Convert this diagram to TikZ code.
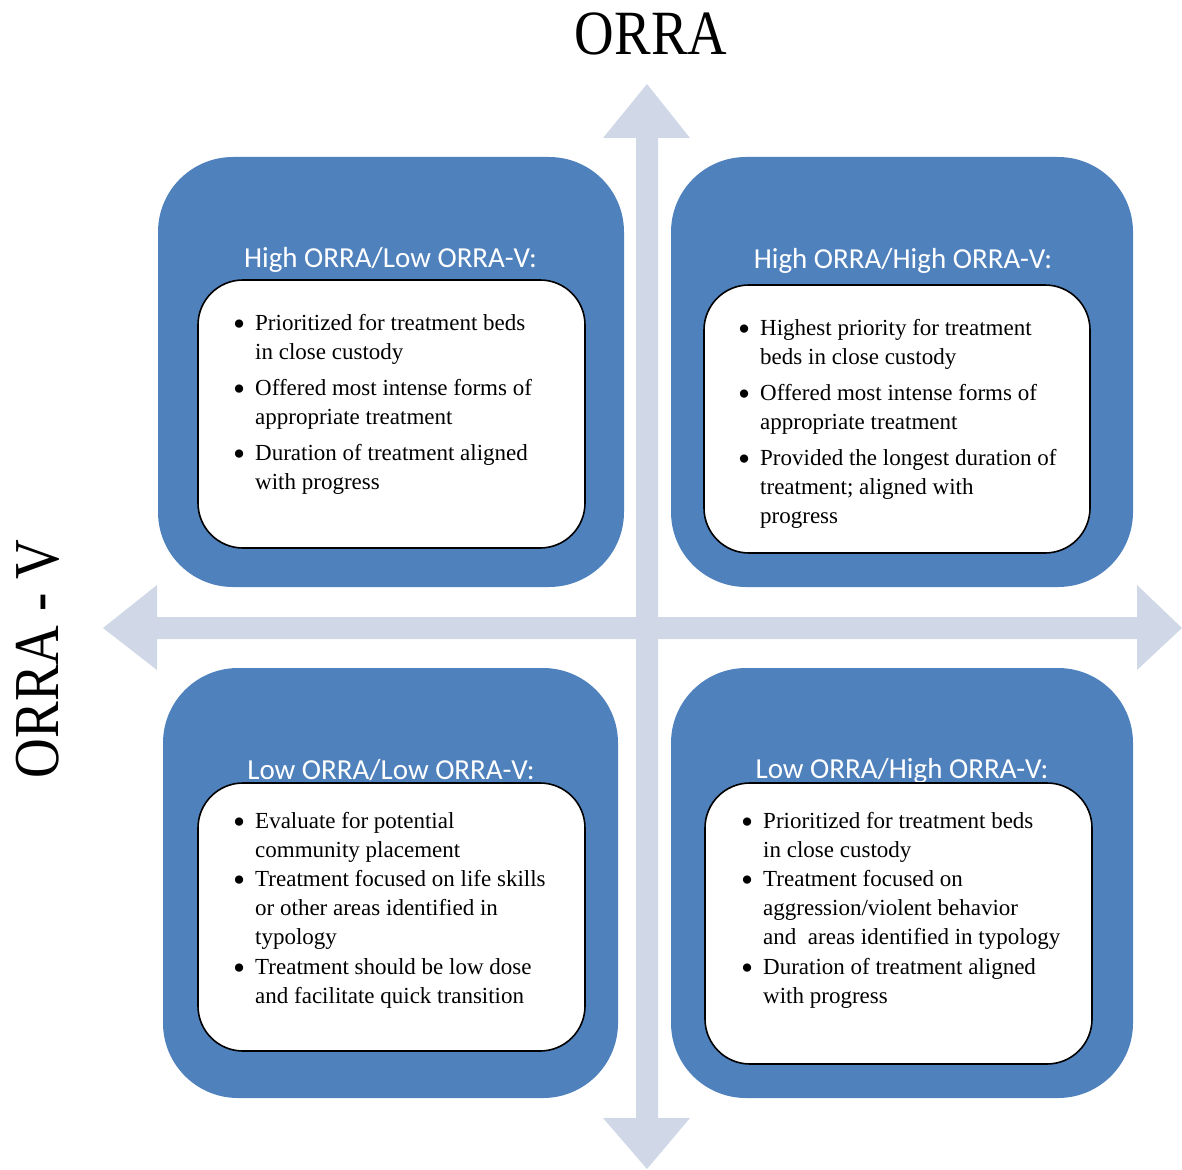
\documentclass[tikz,border=0pt]{standalone}
\usepackage{fontspec}
\setmainfont{Liberation Serif}
\newfontfamily\headfont{Carlito}
\definecolor{boxblue}{HTML}{4F81BD}
\definecolor{axisgray}{HTML}{D0D8E8}
\newcommand{\bul}{\makebox[23pt][l]{\hspace*{1pt}\raisebox{-5.5pt}{\scalebox{1.5}{\textbullet}}}}
\newcommand{\ind}{\makebox[23pt][l]{}}
\tikzset{
  outerbox/.style={fill=boxblue, rounded corners=75pt, inner sep=0pt, minimum height=430pt},
  innerbox/.style={fill=white, draw=black, line width=1.6pt, rounded corners=45pt, inner sep=0pt},
  headtext/.style={font=\headfont\fontsize{29}{34}\selectfont, text=white, anchor=base, inner sep=0pt},
  bodytext/.style={font=\fontsize{23}{29}\selectfont, anchor=base west, inner sep=0pt, align=left},
  bodytextb/.style={font=\fontsize{23}{29.2}\selectfont, anchor=base west, inner sep=0pt, align=left},
  axis/.style={fill=axisgray},
  bigtitle/.style={font=\fontsize{63}{70}\selectfont, inner sep=0pt, anchor=base}
}
\begin{document}
\begin{tikzpicture}[x=1pt,y=-1pt]
\useasboundingbox (0,0) rectangle (1182,1169);
% axes
\fill[axis] (647,84) -- (690,138) -- (658,138) -- (658,1118) -- (690,1118) -- (647,1169)
  -- (603,1118) -- (636,1118) -- (636,138) -- (603,138) -- cycle;
\fill[axis] (103,628) -- (157,585) -- (157,617) -- (1137,617) -- (1137,585) -- (1182,628)
  -- (1137,670) -- (1137,639) -- (157,639) -- (157,670) -- cycle;
% titles
\node[bigtitle] (ttop) at (651,55) {\scalebox{0.87}[1]{ORRA}};
\node[bigtitle, font=\fontsize{64}{70}\selectfont, rotate=90] (tleft) at (58,659) {\scalebox{0.86}[1]{ORRA - V}};
% outer boxes
\node[outerbox, minimum width=466pt] (otl) at (391,372) {};
\node[outerbox, minimum width=462pt] (otr) at (902,372) {};
\node[outerbox, minimum width=455pt] (obl) at (390.5,883) {};
\node[outerbox, minimum width=462pt] (obr) at (902,883) {};
% headers
\node[headtext] (htl) at (390.5,267) {High ORRA/Low ORRA-V:};
\node[headtext] (htr) at (903,268) {High ORRA/High ORRA-V:};
\node[headtext] (hbl) at (391,779) {Low ORRA/Low ORRA-V:};
\node[headtext] (hbr) at (902,778) {Low ORRA/High ORRA-V:};
% inner boxes
\node[innerbox, minimum width=387pt, minimum height=268pt] (itl) at (391.5,414) {};
\node[innerbox, minimum width=386pt, minimum height=268pt] (itr) at (897,419) {};
\node[innerbox, minimum width=387pt, minimum height=268pt] (ibl) at (391.5,917) {};
\node[innerbox, minimum width=387pt, minimum height=281pt] (ibr) at (898.5,923.5) {};
% body texts
\node[bodytext] (btl) at (232,330) {\begin{tabular}[t]{@{}l@{}}
\bul Prioritized for treatment beds\\
\ind in close custody\\[7pt]
\bul Offered most intense forms of\\
\ind appropriate treatment\\[7pt]
\bul Duration of treatment aligned\\
\ind with progress
\end{tabular}};
\node[bodytext] (btr) at (737,335) {\begin{tabular}[t]{@{}l@{}}
\bul Highest priority for treatment\\
\ind beds in close custody\\[7pt]
\bul Offered most intense forms of\\
\ind appropriate treatment\\[7pt]
\bul Provided the longest duration of\\
\ind treatment; aligned with\\
\ind progress
\end{tabular}};
\node[bodytextb] (bbl) at (232,828) {\begin{tabular}[t]{@{}l@{}}
\bul Evaluate for potential\\
\ind community placement\\
\bul Treatment focused on life skills\\
\ind or other areas identified in\\
\ind typology\\
\bul Treatment should be low dose\\
\ind and facilitate quick transition
\end{tabular}};
\node[bodytextb] (bbr) at (740,828) {\begin{tabular}[t]{@{}l@{}}
\bul Prioritized for treatment beds\\
\ind in close custody\\
\bul Treatment focused on\\
\ind aggression/violent behavior\\
\ind and~ areas identified in typology\\
\bul Duration of treatment aligned\\
\ind with progress
\end{tabular}};
\end{tikzpicture}
\end{document}
